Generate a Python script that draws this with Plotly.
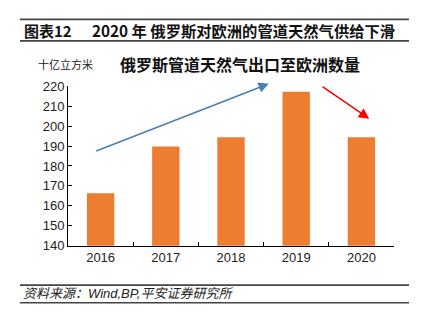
import plotly.graph_objects as go

# Russian pipeline gas exports to Europe (billion cubic metres)
years = ["2016", "2017", "2018", "2019", "2020"]
exports = [166.3, 189.8, 194.4, 217.3, 194.4]
y_ticks = [140, 150, 160, 170, 180, 190, 200, 210, 220]

W, H = 422, 332
CJK = "Noto Sans CJK SC"
LATIN = "Liberation Sans, Arial, Noto Sans CJK SC"


def px(x):
    return x / W


def py(y):
    return 1 - y / H


fig = go.Figure()
fig.add_trace(go.Bar(
    x=years, y=exports,
    marker=dict(color="#ED7D31", line=dict(width=0)),
    width=0.42,
    cliponaxis=False,
))

fig.update_layout(
    width=W, height=H,
    margin=dict(l=0, r=0, t=0, b=0),
    paper_bgcolor="white", plot_bgcolor="white",
    showlegend=False,
    xaxis=dict(
        domain=[px(68), px(394)],
        type="category",
        showline=True, linecolor="#000", linewidth=1,
        ticks="inside", ticklen=4, tickcolor="#000", tickson="boundaries",
        tickfont=dict(family=LATIN, size=13, color="#222"),
        showgrid=False, zeroline=False,
    ),
    yaxis=dict(
        domain=[py(250), py(83)],
        range=[140, 220],
        tickvals=y_ticks,
        showline=True, linecolor="#000", linewidth=1,
        ticks="inside", ticklen=4, tickcolor="#000",
        tickfont=dict(family=LATIN, size=13, color="#222"),
        showgrid=False, zeroline=False,
    ),
)

# Header and footer rules
for y0 in (13, 35.5, 291.3, 309.7):
    fig.add_shape(type="line", xref="paper", yref="paper",
                  x0=px(20), x1=px(409), y0=py(y0), y1=py(y0),
                  line=dict(color="#444", width=1.6))

# Figure caption
fig.add_annotation(xref="paper", yref="paper", x=px(22), y=py(24.5),
                   xanchor="left", yanchor="middle", showarrow=False,
                   text="<b>图表12</b>",
                   font=dict(family=CJK, size=15, color="#111"))
fig.add_annotation(xref="paper", yref="paper", x=px(90), y=py(24.5),
                   xanchor="left", yanchor="middle", showarrow=False,
                   text="<b>2020 年 俄罗斯对欧洲的管道天然气供给下滑</b>",
                   font=dict(family=CJK, size=15.3, color="#111"))

# Chart title and unit
fig.add_annotation(xref="paper", yref="paper", x=px(240), y=py(60),
                   xanchor="center", yanchor="middle", showarrow=False,
                   text="<b>俄罗斯管道天然气出口至欧洲数量</b>",
                   font=dict(family=CJK, size=16, color="#111"))
fig.add_annotation(xref="paper", yref="paper", x=px(36), y=py(60),
                   xanchor="left", yanchor="middle", showarrow=False,
                   text="十亿立方米",
                   font=dict(family=CJK, size=11, color="#222"))

# Trend arrows
fig.add_annotation(xref="x", yref="y", axref="x", ayref="y",
                   x=2.58, y=221.3, ax=-0.09, ay=187.2,
                   showarrow=True, arrowhead=2, arrowsize=1.3, arrowwidth=1.6,
                   arrowcolor="#4A7EBB", text="")
fig.add_annotation(xref="x", yref="y", axref="x", ayref="y",
                   x=4.12, y=203.7, ax=3.38, ay=220.3,
                   showarrow=True, arrowhead=2, arrowsize=1.3, arrowwidth=1.6,
                   arrowcolor="#FF0000", text="")

# Source note
fig.add_annotation(xref="paper", yref="paper", x=px(21), y=py(300.5),
                   xanchor="left", yanchor="middle", showarrow=False,
                   text="<i>资料来源：Wind,BP,平安证券研究所</i>",
                   font=dict(family=LATIN, size=13, color="#222"))

fig.write_html("out.html")
